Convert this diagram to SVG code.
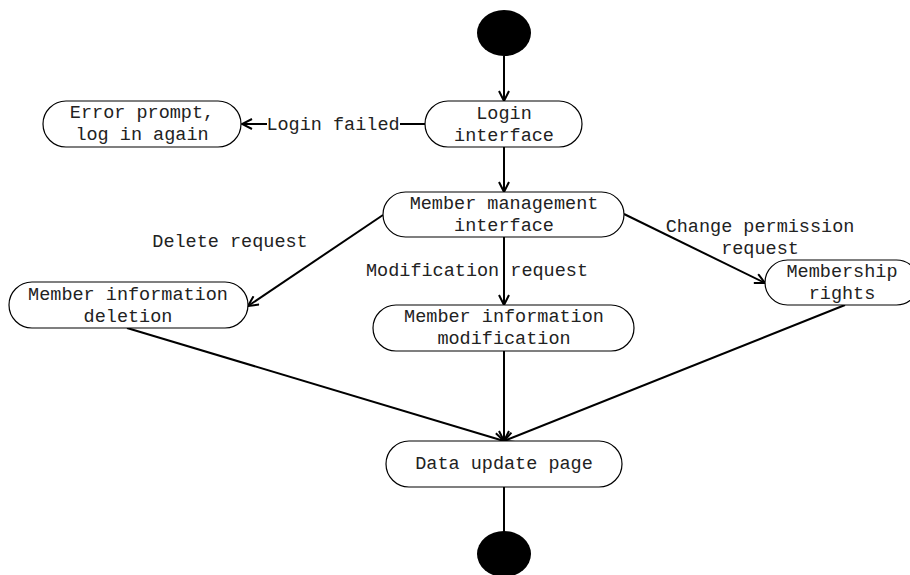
<svg xmlns="http://www.w3.org/2000/svg" width="910" height="575" viewBox="0 0 910 575">
<style>
.box{fill:#fff;stroke:#000;stroke-width:1.2}
.dot{fill:#000}
.ln{fill:none;stroke:#000;stroke-width:2}
text{font-family:"Liberation Mono","DejaVu Sans Mono",monospace;font-size:18.5px;fill:#222;text-anchor:middle}
</style>
<defs>
<marker id="arr" viewBox="0 0 12 12" refX="11" refY="6" markerWidth="12" markerHeight="12" markerUnits="userSpaceOnUse" orient="auto">
<path d="M1,1 L11,6 L1,11" fill="none" stroke="#000" stroke-width="2"/>
</marker>
</defs>
<g id="connectors">
<line class="ln" x1="504" y1="56" x2="504" y2="101" marker-end="url(#arr)"/>
<line class="ln" x1="425" y1="124" x2="400" y2="124"/>
<line class="ln" x1="267" y1="124" x2="242" y2="124" marker-end="url(#arr)"/>
<text x="333" y="130">Login failed</text>
<line class="ln" x1="504" y1="147" x2="504" y2="192" marker-end="url(#arr)"/>
<line class="ln" x1="383" y1="215" x2="248" y2="306" marker-end="url(#arr)"/>
<text x="230" y="247">Delete request</text>
<line class="ln" x1="504" y1="237" x2="504" y2="305" marker-end="url(#arr)"/>
<text x="477" y="276">Modification request</text>
<line class="ln" x1="624" y1="214" x2="765" y2="283" marker-end="url(#arr)"/>
<text x="760" y="232">Change permission</text>
<text x="760" y="254">request</text>
<line class="ln" x1="127" y1="328" x2="504" y2="441" marker-end="url(#arr)"/>
<line class="ln" x1="504" y1="351" x2="504" y2="441" marker-end="url(#arr)"/>
<line class="ln" x1="845" y1="305" x2="504" y2="441" marker-end="url(#arr)"/>
<line class="ln" x1="504" y1="487" x2="504" y2="532"/>
</g>
<g id="start"><ellipse class="dot" cx="504" cy="33" rx="27" ry="23"/></g>
<g id="login"><rect class="box" x="425" y="101" width="157" height="46" rx="23"/><text x="504" y="119">Login</text><text x="504" y="141">interface</text></g>
<g id="error"><rect class="box" x="43" y="101" width="198" height="46" rx="23"/><text x="142" y="118">Error prompt,</text><text x="142" y="140">log in again</text></g>
<g id="management"><rect class="box" x="383" y="192" width="241" height="45" rx="22.5"/><text x="504" y="209">Member management</text><text x="504" y="231">interface</text></g>
<g id="deletion"><rect class="box" x="9" y="282" width="239" height="46" rx="23"/><text x="128" y="300">Member information</text><text x="128" y="322">deletion</text></g>
<g id="modification"><rect class="box" x="373" y="305" width="261" height="46" rx="23"/><text x="504" y="322">Member information</text><text x="504" y="344">modification</text></g>
<g id="rights"><rect class="box" x="765" y="260" width="154" height="45" rx="22.5"/><text x="842" y="277">Membership</text><text x="842" y="299">rights</text></g>
<g id="update"><rect class="box" x="386" y="441" width="236" height="46" rx="23"/><text x="504" y="469">Data update page</text></g>
<g id="end"><ellipse class="dot" cx="504" cy="554" rx="27" ry="23"/></g>
</svg>
